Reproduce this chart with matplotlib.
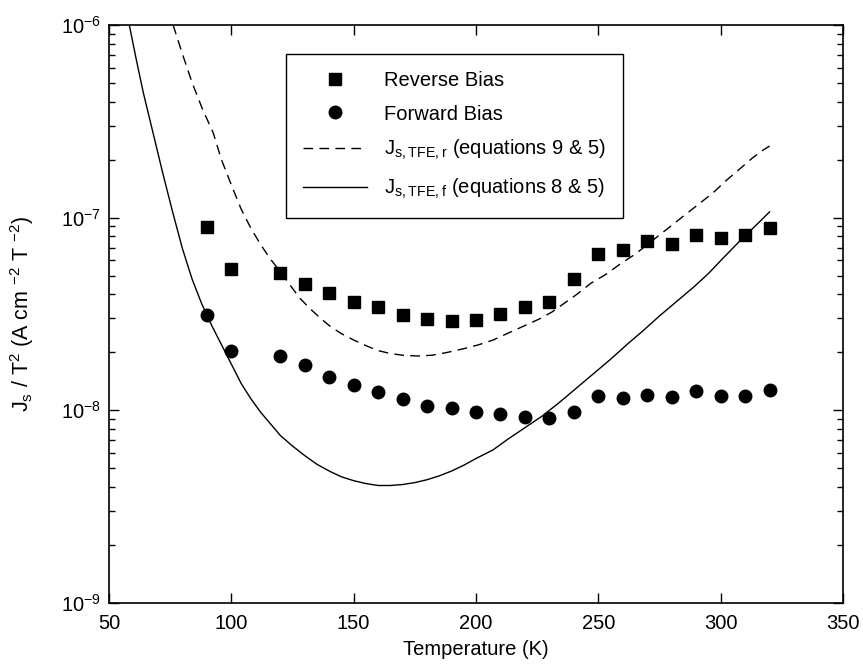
import numpy as np
import matplotlib
matplotlib.use("Agg")
import matplotlib.pyplot as plt
from matplotlib.ticker import LogLocator, NullFormatter

plt.rcParams['font.family'] = ['Liberation Sans', 'DejaVu Sans']
plt.rcParams['mathtext.default'] = 'regular'

# measured points
temp_rev = [90, 100, 120, 130, 140, 150, 160, 170, 180, 190, 200, 210, 220, 230,
            240, 250, 260, 270, 280, 290, 300, 310, 320]
js_rev = [8.9e-8, 5.43e-8, 5.18e-8, 4.53e-8, 4.05e-8, 3.66e-8, 3.43e-8, 3.12e-8,
          2.98e-8, 2.92e-8, 2.96e-8, 3.18e-8, 3.43e-8, 3.66e-8, 4.81e-8, 6.50e-8,
          6.79e-8, 7.56e-8, 7.31e-8, 8.15e-8, 7.85e-8, 8.15e-8, 8.81e-8]

temp_fwd = [90, 100, 120, 130, 140, 150, 160, 170, 180, 190, 200, 210, 220, 230,
            240, 250, 260, 270, 280, 290, 300, 310, 320]
js_fwd = [3.14e-8, 2.04e-8, 1.91e-8, 1.71e-8, 1.49e-8, 1.36e-8, 1.24e-8, 1.14e-8,
          1.05e-8, 1.03e-8, 9.77e-9, 9.61e-9, 9.21e-9, 9.16e-9, 9.84e-9, 1.19e-8,
          1.16e-8, 1.20e-8, 1.17e-8, 1.26e-8, 1.18e-8, 1.18e-8, 1.28e-8]

temp_tfe_r = [76.2, 80, 84, 88, 92.6, 96, 100, 104, 108, 112, 116, 120, 124, 128, 132,
              136, 140, 144.7, 150, 155, 160, 165, 170, 176, 182, 188, 195, 201, 207,
              213, 220, 226, 231, 236, 241, 247, 253, 259, 265, 270, 275, 281, 286,
              291.5, 297, 302, 308, 313, 317.4, 320]
log_tfe_r = [-6.00, -6.15, -6.30, -6.43, -6.56, -6.70, -6.83, -6.955, -7.055, -7.14,
             -7.215, -7.28, -7.35, -7.418, -7.47, -7.517, -7.56, -7.60, -7.635, -7.664,
             -7.69, -7.705, -7.714, -7.718, -7.714, -7.70, -7.68, -7.66, -7.635, -7.60,
             -7.56, -7.525, -7.49, -7.445, -7.40, -7.34, -7.295, -7.24, -7.19, -7.14,
             -7.09, -7.03, -6.98, -6.925, -6.87, -6.81, -6.745, -6.69, -6.649, -6.628]

temp_tfe_f = [58.3, 61, 64, 68, 72, 76, 80, 84, 88, 92, 96, 100, 104, 108, 112, 116,
              120, 125, 130, 135, 140, 145, 150, 155, 160, 165, 170, 175, 180, 185,
              190, 195, 200, 207, 213, 220, 227, 234, 241, 248, 255, 262, 268, 275,
              282, 289, 295, 301, 307.9, 314, 320]
log_tfe_f = [-6.00, -6.17, -6.35, -6.56, -6.77, -6.97, -7.16, -7.32, -7.45, -7.56,
             -7.66, -7.76, -7.86, -7.94, -8.01, -8.07, -8.13, -8.185, -8.235, -8.28,
             -8.315, -8.345, -8.365, -8.38, -8.39, -8.39, -8.385, -8.375, -8.36, -8.34,
             -8.315, -8.285, -8.25, -8.205, -8.15, -8.09, -8.03, -7.96, -7.885, -7.81,
             -7.735, -7.655, -7.59, -7.51, -7.435, -7.36, -7.29, -7.21, -7.12, -7.045,
             -6.97]

fig = plt.figure(figsize=(8.63, 6.65), dpi=100)
ax = fig.add_axes([0.1263, 0.0932, 0.8505, 0.8692])

ax.semilogy(temp_rev, js_rev, 's', color='black', ms=8, label='Reverse Bias')
ax.semilogy(temp_fwd, js_fwd, 'o', color='black', ms=9, label='Forward Bias')
ax.semilogy(temp_tfe_r, 10 ** np.array(log_tfe_r), color='black', lw=1.0,
            dashes=(7, 4.5), label='J$_{s,TFE,r}$ (equations 9 & 5)')
ax.semilogy(temp_tfe_f, 10 ** np.array(log_tfe_f), color='black', lw=1.0,
            label='J$_{s,TFE,f}$ (equations 8 & 5)')

ax.set_xlim(50, 350)
ax.set_ylim(1e-9, 1e-6)
ax.set_xticks(range(50, 351, 50))
ax.yaxis.set_major_locator(LogLocator(base=10, numticks=10))
ax.yaxis.set_minor_locator(LogLocator(base=10, subs=np.arange(2, 10), numticks=10))
ax.yaxis.set_minor_formatter(NullFormatter())

ax.tick_params(which='both', direction='in', top=True, right=True, labelsize=14.5, width=1)
ax.tick_params(which='major', length=7)
ax.tick_params(which='minor', length=4)
ax.tick_params(axis='x', which='major', pad=8)
ax.tick_params(axis='y', which='major', pad=6)
for s in ax.spines.values():
    s.set_linewidth(1.2)

ax.set_xlabel('Temperature (K)', fontsize=14.5)
ax.set_ylabel('J$_s$ / T$^2$ (A cm $^{-2}$ T $^{-2}$)', fontsize=15.5)
ax.xaxis.set_label_coords(0.5, -0.064)
ax.yaxis.set_label_coords(-0.10, 0.5)

leg = ax.legend(loc='upper left', bbox_to_anchor=(0.241, 0.950), borderaxespad=0,
                fontsize=14.5, fancybox=False, edgecolor='black', framealpha=1,
                handlelength=3.2, borderpad=0.85, labelspacing=0.72)
leg.get_frame().set_linewidth(1.0)

fig.savefig('out.png', dpi=100)
